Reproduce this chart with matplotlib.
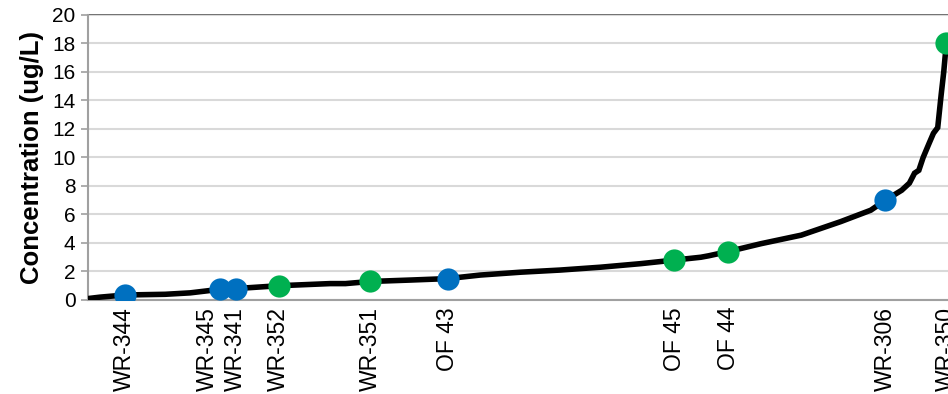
import matplotlib.pyplot as plt
from matplotlib.transforms import ScaledTranslation

plt.rcParams['font.family'] = ['Liberation Sans', 'DejaVu Sans']

# sorted concentration curve (percent rank, ug/L)
curve_rank = [0, 1.4, 4.3, 9.0, 11.9, 15.4, 17.2, 22.2, 28.2, 30.0, 32.9, 37.6,
              41.9, 45.7, 50.4, 55.0, 59.7, 64.4, 68.3, 71.4, 72.3, 74.6, 78.4,
              83.1, 87.7, 91.2, 92.9, 94.8, 95.7, 96.3, 96.8, 97.3, 98.0, 98.5,
              99.0, 99.4, 99.7, 100.0]
curve_conc = [0.1, 0.2, 0.35, 0.4, 0.5, 0.75, 0.8, 1.0, 1.15, 1.15, 1.3, 1.4,
              1.5, 1.75, 1.95, 2.1, 2.3, 2.55, 2.8, 3.0, 3.1, 3.4, 3.95,
              4.55, 5.5, 6.3, 7.0, 7.7, 8.2, 8.9, 9.1, 10.0, 11.0, 11.7,
              12.1, 14.4, 16.0, 18.0]

# labelled sites
sites = ['WR-344', 'WR-345', 'WR-341', 'WR-352', 'WR-351', 'OF 43',
         'OF 45', 'OF 44', 'WR-306', 'WR-350']
site_rank = [4.3, 15.4, 17.2, 22.2, 32.9, 41.9, 68.3, 74.6, 92.9, 100.0]
site_conc = [0.35, 0.75, 0.8, 1.0, 1.3, 1.5, 2.8, 3.4, 7.0, 18.0]
site_group = ['b', 'b', 'b', 'g', 'g', 'b', 'g', 'g', 'b', 'g']

colors = {'b': '#0070C0', 'g': '#00B050'}

fig = plt.figure(figsize=(9.48, 3.94), dpi=100)
ax = fig.add_axes([0.0928, 0.2386, 0.919, 0.7234])

ax.set_ylim(0, 20)
ax.set_xlim(0, 101.5)
ax.set_yticks(range(0, 21, 2))
ax.grid(axis='y', color='#d9d9d9', linewidth=1.5, zorder=0)
ax.axhline(20, color='#595959', linewidth=1.2, zorder=1, clip_on=False)

ax.plot(curve_rank, curve_conc, color='black', linewidth=4,
        solid_joinstyle='miter', zorder=3)
for r, c, g in zip(site_rank, site_conc, site_group):
    ax.plot(r, c, 'o', color=colors[g], markersize=16, zorder=4,
            markeredgewidth=0)

ax.set_xticks(site_rank)
ax.set_xticklabels(sites, rotation=90, fontsize=16.5)
ax.tick_params(axis='x', length=0, pad=5)
ax.tick_params(axis='y', labelsize=15, length=5, width=1.2,
               color='#a0a0a0', pad=4)

# WR-345 and WR-341 sit close together, nudge the first label left
lbl = ax.get_xticklabels()[1]
lbl.set_transform(lbl.get_transform() + ScaledTranslation(-0.13, 0, fig.dpi_scale_trans))

for s in ['top', 'right']:
    ax.spines[s].set_visible(False)
ax.spines['left'].set_color('#a0a0a0')
ax.spines['left'].set_linewidth(1.5)
ax.spines['bottom'].set_color('#a0a0a0')
ax.spines['bottom'].set_linewidth(1.5)

ax.set_ylabel('Concentration (ug/L)', fontsize=18.5, fontweight='bold',
              labelpad=6)

fig.savefig('out.png', dpi=100)
